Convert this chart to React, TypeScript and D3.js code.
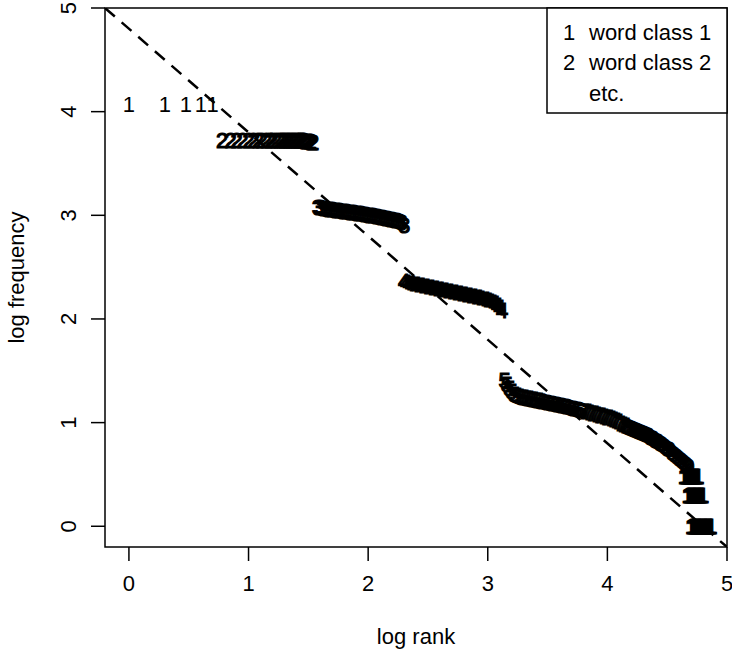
import React from 'react'
import * as d3 from 'd3'

// log10 rank / log10 frequency, one pair of arrays per word class
const logRank1 = [0, 0.301, 0.477, 0.602, 0.699]
const logFreq1 = [4.07, 4.07, 4.07, 4.07, 4.07]

const logRank2 = [0.78, 0.85, 0.9, 0.95, 1.0, 1.04, 1.08, 1.11, 1.15, 1.18, 1.2, 1.23, 1.26, 1.28, 1.3,
  1.32, 1.34, 1.36, 1.38, 1.4, 1.42, 1.43, 1.45, 1.46, 1.48, 1.49, 1.51, 1.52, 1.53, 1.54]
const logFreq2 = [3.73, 3.73, 3.73, 3.73, 3.73, 3.73, 3.73, 3.73, 3.73, 3.73, 3.73, 3.73, 3.73, 3.73, 3.73,
  3.73, 3.73, 3.73, 3.73, 3.73, 3.73, 3.73, 3.73, 3.73, 3.72, 3.72, 3.72, 3.72, 3.71, 3.71]

const logRank3 = [1.58, 1.6, 1.62, 1.64, 1.66, 1.68, 1.7, 1.72, 1.74, 1.76, 1.78, 1.8, 1.82, 1.84, 1.86,
  1.88, 1.9, 1.92, 1.94, 1.96, 1.98, 2.0, 2.02, 2.04, 2.06, 2.08, 2.1, 2.12, 2.14, 2.16, 2.18, 2.2,
  2.22, 2.24, 2.26, 2.28, 2.3]
const logFreq3 = [3.08, 3.08, 3.07, 3.07, 3.06, 3.06, 3.06, 3.05, 3.05, 3.05, 3.04, 3.04, 3.04, 3.03, 3.03,
  3.03, 3.02, 3.02, 3.02, 3.01, 3.01, 3.0, 3.0, 3.0, 2.99, 2.99, 2.98, 2.98, 2.97, 2.97, 2.96, 2.96,
  2.95, 2.95, 2.94, 2.93, 2.91]

const logRank4 = [2.3, 2.32, 2.34, 2.36, 2.38, 2.4, 2.42, 2.44, 2.46, 2.48, 2.5, 2.52, 2.54, 2.56, 2.58,
  2.6, 2.62, 2.64, 2.66, 2.68, 2.7, 2.72, 2.74, 2.76, 2.78, 2.8, 2.82, 2.84, 2.86, 2.88, 2.9, 2.92,
  2.94, 2.96, 2.98, 3.0, 3.02, 3.04, 3.06, 3.08, 3.1, 3.12]
const logFreq4 = [2.37, 2.36, 2.35, 2.35, 2.34, 2.34, 2.33, 2.33, 2.32, 2.32, 2.31, 2.31, 2.3, 2.3, 2.29,
  2.29, 2.28, 2.28, 2.27, 2.27, 2.26, 2.26, 2.25, 2.25, 2.24, 2.24, 2.23, 2.23, 2.22, 2.22, 2.21, 2.21,
  2.2, 2.19, 2.19, 2.18, 2.17, 2.16, 2.15, 2.13, 2.11, 2.09]

const logRank5 = [3.14, 3.16, 3.18, 3.2, 3.22, 3.24, 3.26, 3.28, 3.3, 3.32, 3.34, 3.36, 3.38, 3.4, 3.42, 3.44]
const logFreq5 = [1.41, 1.37, 1.33, 1.3, 1.28, 1.27, 1.26, 1.25, 1.25, 1.24, 1.24, 1.23, 1.23, 1.22, 1.22, 1.21]

const logRank6 = [3.46, 3.48, 3.5, 3.52, 3.54, 3.56, 3.58, 3.6, 3.62, 3.64, 3.66, 3.68, 3.7, 3.72, 3.74, 3.76, 3.78]
const logFreq6 = [1.21, 1.2, 1.2, 1.19, 1.19, 1.18, 1.18, 1.17, 1.17, 1.16, 1.16, 1.15, 1.14, 1.14, 1.13, 1.13, 1.12]

const logRank7 = [3.8, 3.82, 3.84, 3.86, 3.88, 3.9, 3.92, 3.94, 3.96, 3.98, 4.0, 4.02, 4.04, 4.06, 4.08, 4.1, 4.12, 4.14]
const logFreq7 = [1.11, 1.11, 1.1, 1.09, 1.09, 1.08, 1.07, 1.07, 1.06, 1.05, 1.05, 1.04, 1.03, 1.02, 1.01, 1.0, 0.99, 0.98]

const logRank8 = [4.16, 4.18, 4.2, 4.22, 4.24, 4.26, 4.28, 4.3, 4.32, 4.34, 4.36, 4.38, 4.4, 4.42, 4.44]
const logFreq8 = [0.97, 0.96, 0.95, 0.94, 0.93, 0.92, 0.91, 0.9, 0.89, 0.88, 0.86, 0.85, 0.83, 0.82, 0.8]

const logRank9 = [4.46, 4.48, 4.5, 4.52, 4.54, 4.56, 4.58, 4.6, 4.62, 4.64, 4.66, 4.68]
const logFreq9 = [0.79, 0.77, 0.75, 0.74, 0.72, 0.7, 0.68, 0.66, 0.64, 0.62, 0.6, 0.58]

const logRank10 = [4.64, 4.65, 4.66, 4.67, 4.68, 4.69, 4.7, 4.71, 4.72, 4.73, 4.74, 4.75, 4.76]
const logFreq10 = [0.48, 0.48, 0.48, 0.48, 0.48, 0.48, 0.48, 0.48, 0.48, 0.48, 0.48, 0.48, 0.48]

const logRank11 = [4.67, 4.68, 4.69, 4.7, 4.71, 4.72, 4.73, 4.74, 4.75, 4.76, 4.77, 4.78, 4.79, 4.8]
const logFreq11 = [0.3, 0.3, 0.3, 0.3, 0.3, 0.3, 0.3, 0.3, 0.3, 0.3, 0.3, 0.3, 0.3, 0.3]

const logRank12 = [4.7, 4.71, 4.72, 4.73, 4.74, 4.75, 4.76, 4.77, 4.78, 4.79, 4.8, 4.81, 4.82, 4.83,
  4.84, 4.85, 4.86, 4.87]
const logFreq12 = [0, 0, 0, 0, 0, 0, 0, 0, 0, 0, 0, 0, 0, 0, 0, 0, 0, 0]

const classIds = [1, 2, 3, 4, 5, 6, 7, 8, 9, 10, 11, 12]
const classRanks = [logRank1, logRank2, logRank3, logRank4, logRank5, logRank6,
  logRank7, logRank8, logRank9, logRank10, logRank11, logRank12]
const classFreqs = [logFreq1, logFreq2, logFreq3, logFreq4, logFreq5, logFreq6,
  logFreq7, logFreq8, logFreq9, logFreq10, logFreq11, logFreq12]

const xTicks = [0, 1, 2, 3, 4, 5]
const yTicks = [0, 1, 2, 3, 4, 5]

const legendSymbols = ['1', '2', '']
const legendLabels = ['word class 1', 'word class 2', 'etc.']

// reference Zipf line: log f = a + b * log r
const zipfIntercept = 4.8
const zipfSlope = -1

const W = 732
const H = 656
const FONT = 'Liberation Sans, Arial, sans-serif'
const FS = 22

const box = { left: 105, right: 727, top: 8, bottom: 547 }

export default function App() {
  const x = d3.scaleLinear().domain([-0.2, 5]).range([box.left, box.right])
  const y = d3.scaleLinear().domain([-0.2, 5]).range([box.bottom, box.top])

  // like R's pch, only the first character of the class number is drawn.
  // crowded classes get a thin outline so the overlapping glyphs merge into one blob
  const glyphs = classIds.flatMap((id, i) =>
    classRanks[i].map((r, j) => ({
      key: `${id}-${j}`,
      ch: String(id)[0],
      cx: x(r),
      cy: y(classFreqs[i][j]),
      sw: classRanks[i].length > 5 ? 1.2 : 0
    }))
  )

  const lineGen = d3.line<number>()
    .x((d) => x(d))
    .y((d) => y(zipfIntercept + zipfSlope * d))
  const zipfPath = lineGen(x.domain()) || ''

  const digitShift = FS * 0.36

  const legend = { left: 547, top: box.top, width: box.right - 547, height: 105 }

  return (
    <svg width={W} height={H} style={{ position: 'absolute', left: 0, top: 0, background: '#fff' }}
      fontFamily={FONT} fontSize={FS}>
      <defs>
        <clipPath id="plotClip">
          <rect x={box.left} y={box.top} width={box.right - box.left} height={box.bottom - box.top} />
        </clipPath>
      </defs>

      {/* points drawn as class numbers */}
      <g textAnchor="middle" fill="#000" stroke="#000">
        {glyphs.map((g) => (
          <text key={g.key} x={g.cx} y={g.cy + digitShift} strokeWidth={g.sw}>{g.ch}</text>
        ))}
      </g>

      <path d={zipfPath} clipPath="url(#plotClip)" fill="none" stroke="#000"
        strokeWidth={2.5} strokeDasharray="13 9" />

      <rect x={box.left} y={box.top} width={box.right - box.left} height={box.bottom - box.top}
        fill="none" stroke="#000" strokeWidth={1.5} />

      {/* x axis */}
      <g>
        {xTicks.map((t) => (
          <g key={t}>
            <line x1={x(t)} x2={x(t)} y1={box.bottom} y2={box.bottom + 14} stroke="#000" strokeWidth={1.5} />
            <text x={x(t)} y={583 + digitShift} textAnchor="middle">{t}</text>
          </g>
        ))}
        <text x={(box.left + box.right) / 2} y={636 + digitShift} textAnchor="middle">log rank</text>
      </g>

      {/* y axis, labels parallel to the axis */}
      <g>
        {yTicks.map((t) => (
          <g key={t}>
            <line x1={box.left - 14} x2={box.left} y1={y(t)} y2={y(t)} stroke="#000" strokeWidth={1.5} />
            <text transform={`translate(${68 + digitShift},${y(t)}) rotate(-90)`} textAnchor="middle">{t}</text>
          </g>
        ))}
        <text transform={`translate(${18 + digitShift * 0.8},${(box.top + box.bottom) / 2}) rotate(-90)`}
          textAnchor="middle">log frequency</text>
      </g>

      {/* legend */}
      <g>
        <rect x={legend.left} y={legend.top} width={legend.width} height={legend.height}
          fill="#fff" stroke="#000" strokeWidth={1.5} />
        {legendLabels.map((lab, i) => (
          <g key={lab}>
            <text x={569} y={32 + i * 30.5 + digitShift} textAnchor="middle">{legendSymbols[i]}</text>
            <text x={589} y={32 + i * 30.5 + digitShift}>{lab}</text>
          </g>
        ))}
      </g>
    </svg>
  )
}
